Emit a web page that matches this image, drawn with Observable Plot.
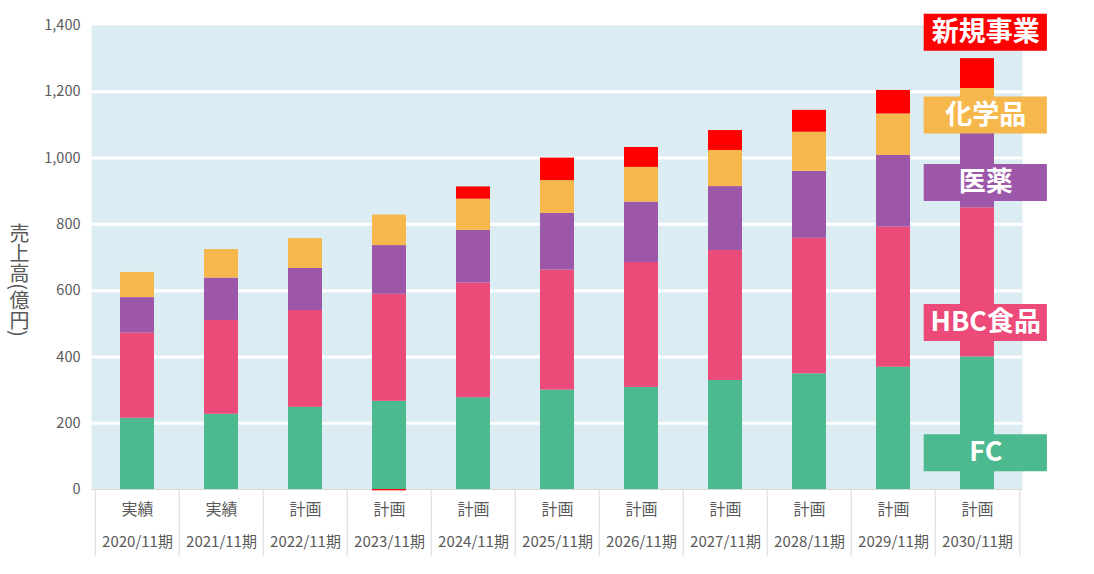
<!DOCTYPE html>
<html>
<head>
<meta charset="utf-8">
<script src="https://cdn.jsdelivr.net/npm/d3@7"></script>
<script src="https://cdn.jsdelivr.net/npm/@observablehq/plot@0.6"></script>
<style>
  html, body { margin: 0; padding: 0; background: #ffffff; }
  #chart svg { display: block; overflow: visible; }
</style>
</head>
<body>
<div id="chart"></div>
<script>
// ---- data ----
const periods = ["2020/11期","2021/11期","2022/11期","2023/11期","2024/11期","2025/11期","2026/11期","2027/11期","2028/11期","2029/11期","2030/11期"];
const status  = ["実績","実績","計画","計画","計画","計画","計画","計画","計画","計画","計画"];
const segments = ["FC","HBC食品","医薬","化学品","新規事業"];
const fc      = [215, 227, 248, 266, 277, 300, 308, 329, 349, 369, 400];
const hbc     = [257, 283, 292, 323, 346, 362, 377, 392, 409, 423, 450];
const pharma  = [107, 128, 127, 147, 159, 171, 182, 193, 202, 216, 240];
const chem    = [ 76,  86,  90,  92,  94,  99, 105, 109, 118, 125, 120];
const newBiz  = [  0,   0,   0,  -4,  37,  68,  60,  60,  66,  71,  90];
const yTicks  = [0, 200, 400, 600, 800, 1000, 1200, 1400];
const labelY  = [111, 504, 926, 1130, 1380]; // legend label positions (億円)
const segColors = ["#4cb98f","#ec4a78","#9c57a8","#f6b84c","#ff0000"];

const series = [fc, hbc, pharma, chem, newBiz];
const table = periods.flatMap((p, i) => segments.map((s, j) => ({period: p, segment: s, value: series[j][i]})));
const labels = segments.map((s, j) => ({segment: s, y: labelY[j]}));
const statusOf = Object.fromEntries(periods.map((p, i) => [p, status[i]]));

// ---- layout ----
const W = 1094, H = 574;
const mL = 91, mR = 72, mT = 25, mB = 85;
const step = (W - mL - mR) / periods.length;
const pInner = 0.6, pOuter = 0.3;
const lastPeriod = periods[periods.length - 1];
const font = "'Noto Sans CJK JP', 'Noto Sans', sans-serif";
const gray = "#595959";

const chart = Plot.plot({
  width: W, height: H,
  marginLeft: mL, marginRight: mR, marginTop: mT, marginBottom: mB,
  style: {fontFamily: font, background: "#ffffff", overflow: "visible"},
  x: {domain: periods, paddingInner: pInner, paddingOuter: pOuter, axis: null},
  y: {domain: [0, 1400], axis: null},
  color: {domain: segments, range: segColors},
  marks: [
    Plot.frame({fill: "#dbecf2", stroke: null}),
    Plot.gridY({ticks: yTicks.filter(t => t > 0 && t < 1400), stroke: "#ffffff", strokeOpacity: 1, strokeWidth: 3}),
    Plot.axisY({ticks: yTicks, tickFormat: d3.format(","), tickSize: 0, tickPadding: 11, fontSize: 14.5, fill: gray, label: null}),
    Plot.ruleY([0], {stroke: "#d9d9d9", strokeWidth: 1}),
    // category separators
    Plot.axisX({ticks: periods, tickSize: 67, dx: -step / 2, stroke: "#d9d9d9", tickFormat: () => "", label: null}),
    Plot.axisX({ticks: [lastPeriod], tickSize: 67, dx: step / 2, stroke: "#d9d9d9", tickFormat: () => "", label: null}),
    // two-row category labels
    Plot.axisX({ticks: periods, tickSize: 0, tickPadding: 14, tickFormat: d => statusOf[d], fontSize: 16, fill: gray, label: null}),
    Plot.axisX({ticks: periods, tickSize: 0, tickPadding: 47, tickFormat: d => d, fontSize: 15, fill: gray, label: null}),
    Plot.barY(table, {x: "period", y: "value", fill: "segment"}),
    // legend labels on the right
    Plot.tickY(labels, {x: () => lastPeriod, y: "y", stroke: "segment", strokeWidth: 37,
      insetLeft: -36.3, insetRight: -52.9}),
    Plot.text(labels, {x: () => lastPeriod, y: "y", text: "segment", fill: "#ffffff", fontWeight: "bold", fontSize: 27, dx: 8.3}),
    // y axis title
    Plot.text(["売上高(億円)"], {frameAnchor: "left", dx: -72, dy: 16, fontSize: 20, fill: gray, textAnchor: "middle", className: "ylab"})
  ]
});
document.getElementById("chart").appendChild(chart);
// vertical writing for the y-axis title
d3.select(chart).selectAll(".ylab text")
  .attr("dy", null)
  .style("writing-mode", "vertical-rl")
  .style("text-orientation", "mixed")
  .style("dominant-baseline", "central");
</script>
</body>
</html>
